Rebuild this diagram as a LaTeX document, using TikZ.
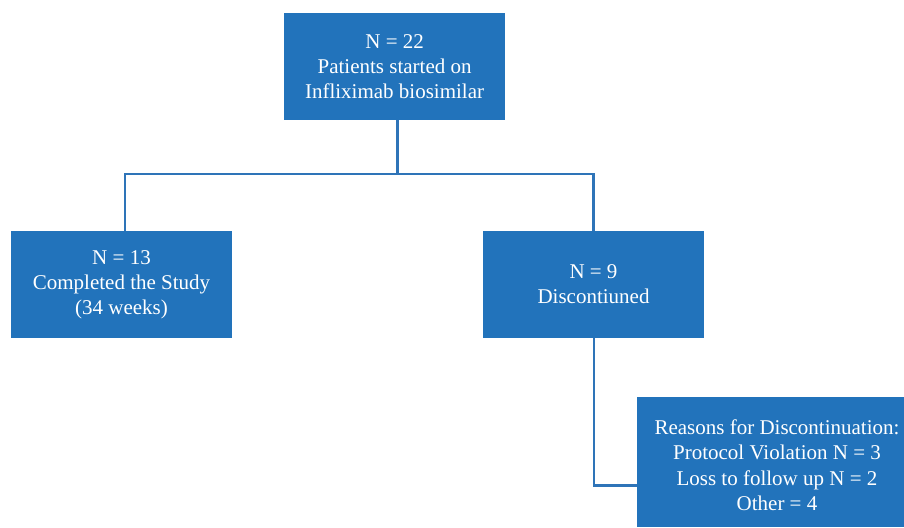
\documentclass[tikz,border=0pt]{standalone}
\usepackage{fontspec}
\setmainfont{Liberation Serif}
\definecolor{boxblue}{HTML}{2273BB}
\definecolor{lineblue}{HTML}{2E74B8}
\begin{document}
\begin{tikzpicture}[x=1pt,y=1pt,
  fbox/.style={fill=boxblue,text=white,align=center,inner sep=0pt,
    font=\fontsize{21}{25}\selectfont},
  wtext/.style={text=white,align=center,inner sep=0pt,
    font=\fontsize{21}{25.5}\selectfont},
  conn/.style={draw=lineblue,line width=2.6pt,line cap=rect}]
\useasboundingbox (0,0) rectangle (904,-527);
\node[fbox,minimum width=220.5pt,minimum height=107pt] (top) at (394.6,-66.5)
  {N = 22\\Patients started on\\Infliximab biosimilar};
\node[fbox,minimum width=221pt,minimum height=107pt] (left) at (121.5,-284.5)
  {N = 13\\Completed the Study\\(34 weeks)};
\node[fbox,minimum width=221pt,minimum height=107pt] (mid) at (593.5,-284.5)
  {N = 9\\Discontiuned};
\node[fbox,minimum width=267pt,minimum height=130pt] (reasbox) at (770.5,-462) {};
\node[wtext] (reas) at (777,-465)
  {Reasons for Discontinuation:\\Protocol Violation N = 3\\Loss to follow up N = 2\\Other = 4};
\coordinate (j) at (397.5,-174);
\coordinate (lc) at (125,-174);
\coordinate (rc) at (593.5,-174);
\coordinate (bc) at (594,-485.5);
\draw[conn,line cap=butt] (top.south -| j) -- (j);
\draw[conn] (lc) -- (rc);
\draw[conn,line cap=butt] (lc) -- (left.north -| lc);
\draw[conn,line cap=butt] (rc) -- (mid.north -| rc);
\draw[conn,line cap=butt] (mid.south -| bc) -- (bc) -- (reasbox.west |- bc);
\end{tikzpicture}
\end{document}
